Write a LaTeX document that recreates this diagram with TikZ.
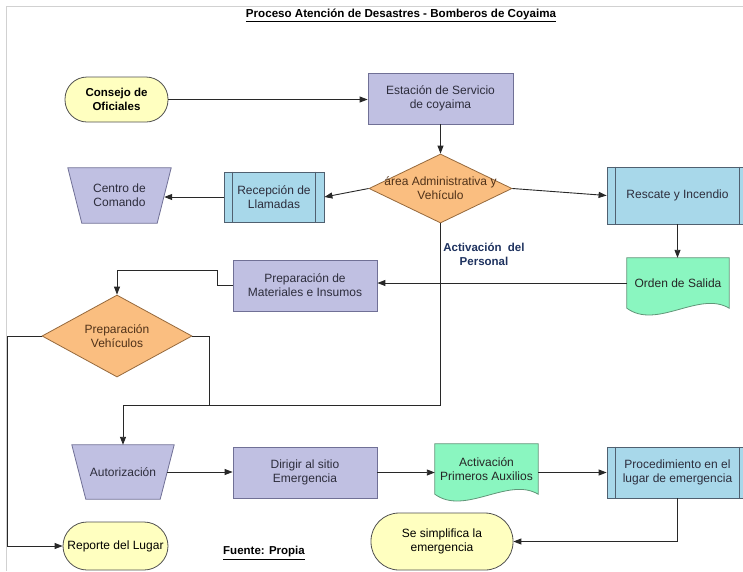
\documentclass[tikz,border=0pt]{standalone}
\usepackage{fontspec}
\setmainfont{Liberation Sans}
\usetikzlibrary{shapes.geometric,arrows.meta,calc}
\pgfdeclarelayer{background}
\pgfsetlayers{background,main}
\definecolor{lavf}{RGB}{192,192,226}
\definecolor{lavb}{RGB}{112,112,150}
\definecolor{lavt}{RGB}{45,45,60}
\definecolor{bluef}{RGB}{168,216,234}
\definecolor{blueb}{RGB}{80,96,112}
\definecolor{greenf}{RGB}{138,246,192}
\definecolor{greenb}{RGB}{96,150,120}
\definecolor{orangef}{RGB}{250,190,128}
\definecolor{orangeb}{RGB}{150,105,60}
\definecolor{oranget}{RGB}{80,50,25}
\definecolor{yelf}{RGB}{255,255,192}
\definecolor{yelb}{RGB}{80,80,80}
\definecolor{linec}{RGB}{40,40,40}
\definecolor{navy}{RGB}{30,50,95}
\begin{document}
\begin{tikzpicture}[x=1pt,y=-1pt,
  base/.style={inner sep=0pt, align=center, font=\fontsize{12}{14}\selectfont},
  lav/.style={base, rectangle, draw=lavb, fill=lavf, text=lavt, line width=0.8pt},
  pp/.style={base, rectangle, draw=blueb, fill=bluef, text=lavt, line width=0.8pt},
  trap/.style={base, rectangle, text=lavt},
  trapshape/.style={draw=lavb, fill=lavf, line width=0.8pt},
  dia/.style={diamond, inner sep=0pt, draw=orangeb, fill=orangef, line width=0.8pt},
  diatext/.style={base, text=oranget},
  doc/.style={base, text=black!85},
  docshape/.style={draw=greenb, fill=greenf, line width=0.8pt},
  stad/.style={base, rectangle, draw=yelb, fill=yelf, text=black, line width=0.8pt},
  boldlabel/.style={inner sep=0pt, align=center, font=\fontsize{11.5}{14}\selectfont\bfseries},
  arr/.style={draw=linec, line width=0.9pt, -{Triangle[length=8pt,width=6pt]}},
  ln/.style={draw=linec, line width=0.9pt}]
\useasboundingbox (0,0) rectangle (743,571);
\begin{pgfonlayer}{background}
\fill[white] (0,0) rectangle (743,571);
\draw[black!18, line width=1pt] (6,571) -- (6,6) -- (743,6);
\end{pgfonlayer}

% title and source
\node[boldlabel, font=\fontsize{11.6}{13}\selectfont\bfseries] (ti) at (401,15) {\underline{Proceso Atención de Desastres - Bomberos de Coyaima}};
\node[boldlabel] (fu) at (264,553) {\underline{Fuente: Propia}};

% nodes
\node[stad, rounded corners=22pt, minimum width=103, minimum height=45,
  font=\fontsize{11.5}{14}\selectfont\bfseries] (co) at (116.5,99.5) {Consejo de\\Oficiales};
\node[lav, minimum width=145, minimum height=51] (es) at (440.5,98.5) {Estación de Servicio\\de coyaima};
\node[dia, minimum width=143, minimum height=69] (ad) at (440.5,188.5) {};
\node[diatext] (adt) at (ad) {área Administrativa y\\Vehículo};
\node[pp, minimum width=141, minimum height=57] (rs) at (677.5,195.5) {Rescate y Incendio};
\node[pp, minimum width=100, minimum height=50] (rl) at (274,197) {Recepción de\\Llamadas};
\node[trap, minimum width=103, minimum height=55] (cc) at (119.5,195.5) {Centro de\\Comando};
\node[boldlabel, text=navy] (ap) at (484,254) {Activación \ del\\Personal};
\node[lav, minimum width=144, minimum height=51] (pm) at (305,285.5) {Preparación de\\Materiales e Insumos};
\node[doc, minimum width=102, minimum height=50] (os) at (678,283) {Orden de Salida};
\node[dia, minimum width=150, minimum height=82] (pv) at (117,336) {};
\node[diatext] (pvt) at (pv) {Preparación\\Vehículos};
\node[trap, minimum width=102, minimum height=54] (au) at (123,472) {Autorización};
\node[lav, minimum width=144, minimum height=51] (di) at (305,472.5) {Dirigir al sitio\\Emergencia};
\node[doc, minimum width=103, minimum height=50] (pa) at (486.5,469) {Activación\\Primeros Auxilios};
\node[pp, minimum width=141, minimum height=51] (pr) at (677.5,472.5) {Procedimiento en el\\lugar de emergencia};
\node[stad, rounded corners=28pt, minimum width=142, minimum height=57] (ss) at (442,541.5) {Se simplifica la\\emergencia};
\node[stad, rounded corners=24pt, minimum width=105, minimum height=48] (rep) at (115.5,546) {Reporte del Lugar};

% document shapes, trapezoids and predefined-process bars
\begin{pgfonlayer}{background}
\foreach \d in {os,pa}{
  \draw[docshape] (\d.south west) -- (\d.north west) -- (\d.north east) -- (\d.south east)
    .. controls ($(\d.south east)+(-30,-18)$) and ($(\d.south west)+(30,22)$) .. (\d.south west) -- cycle;
}
\foreach \t in {cc,au}{
  \draw[trapshape] (\t.north west) -- (\t.north east) -- ([xshift=-14pt]\t.south east)
    -- ([xshift=14pt]\t.south west) -- cycle;
}
\end{pgfonlayer}
\foreach \p in {rs,rl,pr}{
  \draw[blueb, line width=0.8pt] ([xshift=9pt]\p.north west) -- ([xshift=9pt]\p.south west);
  \draw[blueb, line width=0.8pt] ([xshift=-9pt]\p.north east) -- ([xshift=-9pt]\p.south east);
}

% connectors
\coordinate (j) at (440.5,405);
\coordinate (k) at (209,405);
\coordinate (cce) at ([xshift=-7pt]cc.east);
\coordinate (aue) at ([xshift=-7pt]au.east);
\draw[arr] (co.east) -- (co.east -| es.west);
\draw[arr] (es.south) -- (ad.north);
\draw[arr] (ad.east) -- (rs.west);
\draw[arr] (ad.west) -- (rl.east);
\draw[arr] (rl.west) -- (rl.west -| cce);
\draw[arr] (rs.south) -- (rs.south |- os.north);
\draw[arr] (os.west) -- (os.west -| pm.east);
\draw[arr] (pm.west) -- ++(-15,0) |- ([yshift=24pt]pv.north) -- (pv.north);
\draw[arr] (ad.south) |- (au.north |- j) -- (au.north);
\draw[ln] (pv.east) -| (k);
\draw[arr] (pv.west) -- ++(-34,0) |- (rep.west);
\draw[arr] (aue) -- (aue -| di.west);
\draw[arr] (di.east) -- (di.east -| pa.west);
\draw[arr] (pr.west -| pa.east) -- (pr.west);
\draw[arr] (pr.south) |- (ss.east);
\end{tikzpicture}
\end{document}
